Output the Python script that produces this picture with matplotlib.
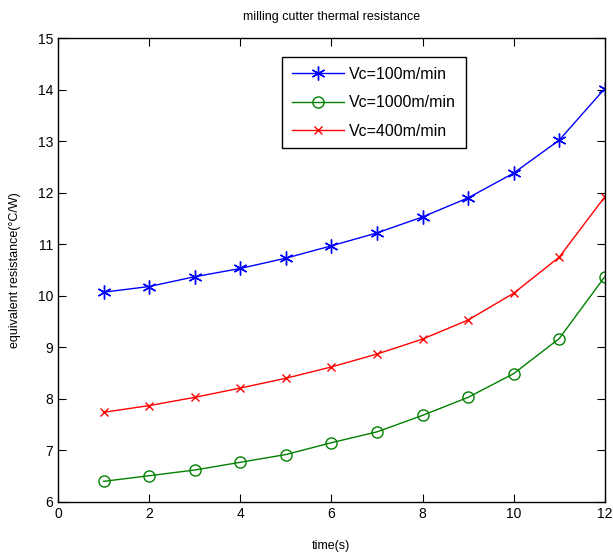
import matplotlib
matplotlib.use("Agg")
import matplotlib.pyplot as plt

plt.rcParams['font.family'] = ['Liberation Sans', 'DejaVu Sans']

time_s = [1, 2, 3, 4, 5, 6, 7, 8, 9, 10, 11, 12]
r_100 = [10.07, 10.18, 10.37, 10.53, 10.73, 10.97, 11.22, 11.53, 11.90, 12.38, 13.02, 14.02]
r_1000 = [6.40, 6.51, 6.62, 6.77, 6.92, 7.15, 7.36, 7.68, 8.03, 8.49, 9.17, 10.37]
r_400 = [7.74, 7.87, 8.03, 8.21, 8.40, 8.62, 8.87, 9.16, 9.53, 10.05, 10.75, 11.92]
labels = ['Vc=100m/min', 'Vc=1000m/min', 'Vc=400m/min']

fig = plt.figure(figsize=(6.13, 5.6), dpi=100)
ax = fig.add_axes([0.0946, 0.1036, 0.892, 0.8284])

asterisk = (6, 2, 0)
ax.plot(time_s, r_100, color='blue', marker=asterisk, markersize=10, lw=1.0, label=labels[0])
ax.plot(time_s, r_1000, color='green', marker='o', markersize=8, mfc='none', lw=1.0, label=labels[1])
ax.plot(time_s, r_400, color='red', marker='x', markersize=6, lw=1.0, label=labels[2])

ax.set_xlim(0, 12)
ax.set_ylim(6, 15)
ax.set_xticks(range(0, 13, 2))
ax.set_yticks(range(6, 16))
ax.tick_params(direction='in', top=True, right=True, labelsize=10, length=6)
for s in ax.spines.values():
    s.set_linewidth(1.0)

ax.set_title('milling cutter thermal resistance', fontsize=9, pad=13)
ax.set_xlabel('time(s)', fontsize=9, labelpad=14)
ax.set_ylabel('equivalent resistance(°C/W)', fontsize=9, labelpad=12)

leg = ax.legend(loc='upper left', bbox_to_anchor=(0.41, 0.959), fontsize=11.5,
                frameon=True, fancybox=False, edgecolor='black', framealpha=1,
                handlelength=3.3, borderpad=0.6, labelspacing=0.85, handletextpad=0.3,
                borderaxespad=0)
leg.get_frame().set_linewidth(1.0)

fig.savefig('out.png', dpi=100)
